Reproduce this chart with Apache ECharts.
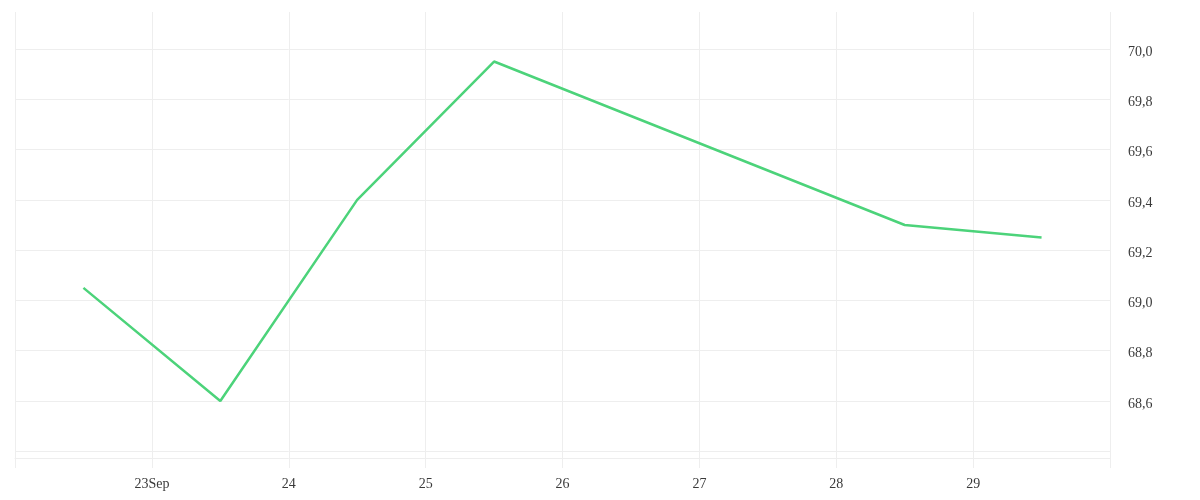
<!DOCTYPE html>
<html>
<head>
<meta charset="utf-8">
<script src="https://cdn.jsdelivr.net/npm/echarts@6/dist/echarts.min.js"></script>
<style>
  html, body { margin: 0; padding: 0; background: #fff; }
  #chart { width: 1200px; height: 500px; }
</style>
</head>
<body>
<div id="chart"></div>
<script>
// 数据：每日中午一个点（26、27 号无数据）
const dates = ['2020-09-22 12:00', '2020-09-23 12:00', '2020-09-24 12:00', '2020-09-25 12:00', '2020-09-28 12:00', '2020-09-29 12:00'];
const values = [69.05, 68.60, 69.40, 69.95, 69.30, 69.25];

// 刻度
const dayTicks = ['2020-09-22', '2020-09-23', '2020-09-24', '2020-09-25', '2020-09-26', '2020-09-27', '2020-09-28', '2020-09-29', '2020-09-30'];
const dayLabels = ['2020-09-23', '2020-09-24', '2020-09-25', '2020-09-26', '2020-09-27', '2020-09-28', '2020-09-29'];
const yTicks = [68.4, 68.6, 68.8, 69.0, 69.2, 69.4, 69.6, 69.8, 70.0];
const yLabels = [68.6, 68.8, 69.0, 69.2, 69.4, 69.6, 69.8, 70.0];

const toTime = (s) => new Date(s.replace(' ', 'T') + (s.length > 10 ? '' : 'T00:00')).getTime();
const font = 'Liberation Serif';
const lineColor = '#eeeeee';

const chart = echarts.init(document.getElementById('chart'));
chart.setOption({
  animation: false,
  grid: { left: 15, right: 90, top: 12, bottom: 42 },
  xAxis: {
    // 用数值轴承载时间戳，按天自定义刻度
    type: 'value',
    min: toTime('2020-09-22 00:00'),
    max: toTime('2020-09-30 00:00'),
    axisLine: { show: true, lineStyle: { color: lineColor } },
    axisTick: { show: true, length: 10, lineStyle: { color: lineColor }, customValues: dayTicks.map(toTime) },
    axisLabel: {
      customValues: dayLabels.map(toTime),
      fontFamily: font,
      fontSize: 14,
      color: '#3a3a3a',
      margin: 19,
      formatter: (v) => {
        const d = new Date(v);
        return d.getDate() === 23 ? '23Sep' : String(d.getDate());
      }
    },
    splitLine: { show: true, lineStyle: { color: lineColor } }
  },
  yAxis: {
    type: 'value',
    position: 'right',
    min: 68.3733,
    max: 70.147,
    axisLine: { show: false },
    axisTick: { show: false, customValues: yTicks },
    axisLabel: {
      customValues: yLabels,
      margin: 18,
      formatter: (v) => '{a|' + v.toFixed(1).replace('.', ',') + '}',
      rich: {
        a: { fontFamily: font, fontSize: 14, color: '#3a3a3a', padding: [6, 0, 0, 0] }
      }
    },
    splitLine: { show: true, lineStyle: { color: lineColor } }
  },
  series: [{
    type: 'line',
    data: dates.map((d, i) => [toTime(d), values[i]]),
    showSymbol: false,
    lineStyle: { color: '#4cd37a', width: 2.5 },
    itemStyle: { color: '#4cd37a' }
  }]
});
</script>
</body>
</html>
